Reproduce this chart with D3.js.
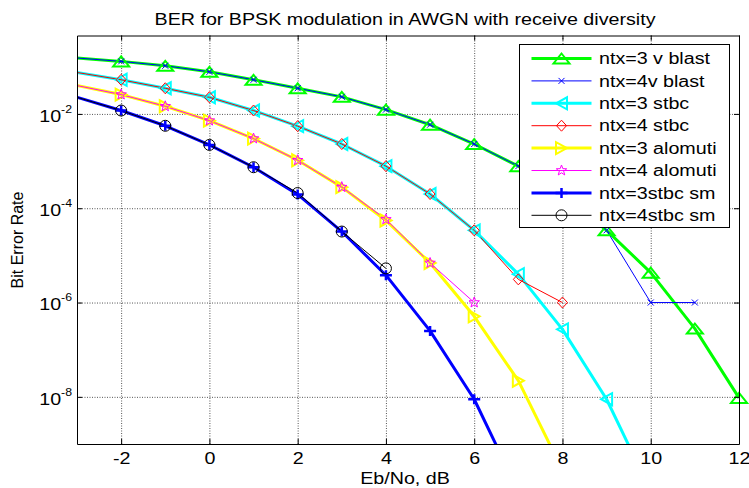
<!DOCTYPE html>
<html>
<head>
<meta charset="utf-8">
<script src="https://cdn.jsdelivr.net/npm/d3@7"></script>
<style>
  body { margin: 0; background: #fff; }
  text { font-family: "Liberation Sans", Arial, sans-serif; fill: #000; }
</style>
</head>
<body>
<div id="chart"></div>
<script>
// Eb/No points (dB); the first one lies left of the visible axis
const ebNo = [-4, -2, -1, 0, 1, 2, 3, 4, 5, 6, 7, 8, 9, 10, 11, 12]

// BER (null = no point)
const vblast3 = [0.181, 0.13, 0.105, 0.078, 0.053, 0.035, 0.023, 0.0123, 0.0059, 0.0023, 7.8e-4, 1.9e-4, 3.4e-5, 4.3e-6, 2.8e-7, 9.5e-9]
const vblast4 = [0.181, 0.13, 0.105, 0.078, 0.053, 0.035, 0.023, 0.0123, 0.0059, 0.0023, 7.8e-4, 1.9e-4, 3.4e-5, 1e-6, 1e-6, null]
const stbc3 = [0.108, 0.053, 0.035, 0.0225, 0.0118, 0.0055, 0.0023, 7.8e-4, 2.0e-4, 3.4e-5, 4.0e-6, 2.7e-7, 8.9e-9, 1.0e-10, null, null]
const stbc4 = [0.108, 0.053, 0.035, 0.0225, 0.0118, 0.0055, 0.0023, 7.8e-4, 2.0e-4, 3.4e-5, 3.1e-6, 1.0e-6, null, null, null, null]
const alamouti3 = [0.062, 0.0257, 0.0145, 0.0072, 0.0030, 0.00104, 2.8e-4, 5.5e-5, 6.9e-6, 5.1e-7, 2.2e-8, 2.8e-10, null, null, null, null]
const alamouti4 = [0.062, 0.0257, 0.0145, 0.0072, 0.0030, 0.00104, 2.8e-4, 5.8e-5, 6.9e-6, 1.0e-6, null, null, null, null, null, null]
const stbcSm3 = [0.043, 0.0118, 0.0056, 0.0022, 7.4e-4, 1.96e-4, 3.2e-5, 3.8e-6, 2.5e-7, 8.9e-9, 1.0e-10, null, null, null, null, null]
const stbcSm4 = [0.043, 0.0118, 0.0056, 0.0022, 7.4e-4, 2.1e-4, 3.2e-5, 5.3e-6, null, null, null, null, null, null, null, null]

const legendLabels = ["ntx=3 v blast", "ntx=4v blast", "ntx=3 stbc", "ntx=4 stbc",
  "ntx=3 alomuti", "ntx=4 alomuti", "ntx=3stbc sm", "ntx=4stbc sm"]
const xTicks = [-2, 0, 2, 4, 6, 8, 10, 12]
const yTickExponents = [-2, -4, -6, -8]

const titleText = "BER for BPSK modulation in AWGN with receive diversity"
const xLabelText = "Eb/No, dB"
const yLabelText = "Bit Error Rate"

// plot order matters: later series sit on top
const series = [
  { values: vblast3, color: "#00ff00", width: 3, marker: "triUp", markerWidth: 2 },
  { values: vblast4, color: "#0000ff", width: 1, marker: "x", markerWidth: 1 },
  { values: stbc3, color: "#00ffff", width: 3, marker: "triLeft", markerWidth: 2 },
  { values: stbc4, color: "#ff0000", width: 1, marker: "diamond", markerWidth: 1 },
  { values: alamouti3, color: "#ffff00", width: 3, marker: "triRight", markerWidth: 2 },
  { values: alamouti4, color: "#ff00ff", width: 1, marker: "star", markerWidth: 1 },
  { values: stbcSm3, color: "#0000ff", width: 3, marker: "plus", markerWidth: 2.5 },
  { values: stbcSm4, color: "#000000", width: 1, marker: "circle", markerWidth: 1 },
].map((s, i) => ({ ...s, label: legendLabels[i] }))

const STRETCH = 1.23  // the reference text is drawn wide

const dimensions = {
  width: 749,
  height: 488,
  margin: { top: 35.5, right: 10, bottom: 44, left: 77 },
}
dimensions.boundedWidth = dimensions.width - dimensions.margin.left - dimensions.margin.right
dimensions.boundedHeight = dimensions.height - dimensions.margin.top - dimensions.margin.bottom

const xScale = d3.scaleLinear()
  .domain([-3, 12])
  .range([0, dimensions.boundedWidth])
const yScale = d3.scaleLog()
  .domain([1e-9, 0.46])
  .range([dimensions.boundedHeight, 0])

function markerPath(type) {
  const p = d3.path()
  switch (type) {
    case "triUp":
      p.moveTo(0, -5); p.lineTo(8, 5); p.lineTo(-8, 5); p.closePath(); break
    case "triLeft":
      p.moveTo(-5.5, 0); p.lineTo(5.5, -6); p.lineTo(5.5, 6); p.closePath(); break
    case "triRight":
      p.moveTo(5.5, 0); p.lineTo(-5.5, -6); p.lineTo(-5.5, 6); p.closePath(); break
    case "diamond":
      p.moveTo(0, -5.5); p.lineTo(5, 0); p.lineTo(0, 5.5); p.lineTo(-5, 0); p.closePath(); break
    case "x":
      p.moveTo(-3, -3); p.lineTo(3, 3); p.moveTo(-3, 3); p.lineTo(3, -3); break
    case "plus":
      p.moveTo(-6, 0); p.lineTo(6, 0); p.moveTo(0, -5); p.lineTo(0, 5); break
    case "circle":
      p.moveTo(5.5, 0); p.arc(0, 0, 5.5, 0, 2 * Math.PI); break
    case "star": {
      for (let k = 0; k < 10; k++) {
        const r = k % 2 === 0 ? 5.5 : 2.3
        const a = -Math.PI / 2 + k * Math.PI / 5
        if (k === 0) p.moveTo(r * Math.cos(a), r * Math.sin(a))
        else p.lineTo(r * Math.cos(a), r * Math.sin(a))
      }
      p.closePath(); break
    }
  }
  return p.toString()
}

const svg = d3.select("#chart").append("svg")
  .attr("width", dimensions.width)
  .attr("height", dimensions.height)

const bounds = svg.append("g")
  .attr("transform", `translate(${dimensions.margin.left}, ${dimensions.margin.top})`)

svg.append("defs").append("clipPath")
  .attr("id", "plot-clip")
  .append("rect")
  .attr("width", dimensions.boundedWidth)
  .attr("height", dimensions.boundedHeight)

// Grid
const yTicks = yTickExponents.map(e => Math.pow(10, e))
const gridStyle = g => {
  g.select(".domain").remove()
  g.selectAll(".tick line")
    .attr("stroke", "#555")
    .attr("stroke-dasharray", "1,1.5")
}
bounds.append("g")
  .attr("transform", `translate(0, ${dimensions.boundedHeight})`)
  .call(d3.axisBottom(xScale).tickValues(xTicks).tickSize(-dimensions.boundedHeight).tickFormat(""))
  .call(gridStyle)
bounds.append("g")
  .call(d3.axisLeft(yScale).tickValues(yTicks).tickSize(-dimensions.boundedWidth).tickFormat(""))
  .call(gridStyle)

// Lines
const lineGenerator = d3.line()
  .defined(d => d.y != null)
  .x(d => xScale(d.x))
  .y(d => yScale(d.y))

const lineLayer = bounds.append("g").attr("clip-path", "url(#plot-clip)")
const markerLayer = bounds.append("g")

series.forEach(s => {
  const pts = ebNo.map((x, i) => ({ x, y: s.values[i] }))
  lineLayer.append("path")
    .attr("d", lineGenerator(pts))
    .attr("fill", "none")
    .attr("stroke", s.color)
    .attr("stroke-width", s.width)
    .attr("stroke-linejoin", "round")

  const [x0, x1] = xScale.domain()
  const [y0] = yScale.domain()
  markerLayer.selectAll(null)
    .data(pts.filter(d => d.y != null && d.x >= x0 && d.x <= x1 && d.y >= y0))
    .join("path")
      .attr("transform", d => `translate(${xScale(d.x)}, ${yScale(d.y)})`)
      .attr("d", markerPath(s.marker))
      .attr("fill", "none")
      .attr("stroke", s.color)
      .attr("stroke-width", s.markerWidth)
})

// Axes with inward ticks on all four sides
const axisStyle = g => {
  g.select(".domain").attr("stroke", "#000")
  g.selectAll(".tick line").attr("stroke", "#000")
}
const xAxis = bounds.append("g")
  .attr("transform", `translate(0, ${dimensions.boundedHeight})`)
  .call(d3.axisBottom(xScale).tickValues(xTicks).tickSize(-5).tickSizeOuter(0))
  .call(axisStyle)
xAxis.selectAll(".tick text")
  .attr("y", 0).attr("dy", null)
  .attr("transform", `translate(0, 19.5) scale(${STRETCH}, 1)`)
  .attr("font-size", 16)
  .attr("font-family", null)
  .text(d => d)

bounds.append("g")
  .call(d3.axisTop(xScale).tickValues(xTicks).tickSize(-5).tickSizeOuter(0).tickFormat(""))
  .call(axisStyle)

const yAxis = bounds.append("g")
  .call(d3.axisLeft(yScale).tickValues(yTicks).tickSize(-5).tickSizeOuter(0).tickFormat(""))
  .call(axisStyle)
yAxis.selectAll(".tick").each(function (d, i) {
  const label = d3.select(this).append("text")
    .attr("text-anchor", "end")
    .attr("font-size", 16)
    .attr("transform", `translate(-5, 7.2) scale(${STRETCH}, 1)`)
  label.append("tspan").text("10")
  label.append("tspan")
    .attr("font-size", 10)
    .attr("dy", -9)
    .text(yTickExponents[i])
})

bounds.append("g")
  .attr("transform", `translate(${dimensions.boundedWidth}, 0)`)
  .call(d3.axisRight(yScale).tickValues(yTicks).tickSize(-5).tickSizeOuter(0).tickFormat(""))
  .call(axisStyle)

// Titles
const centerX = dimensions.margin.left + dimensions.boundedWidth / 2 - 3
svg.append("text")
  .attr("transform", `translate(${centerX}, 25) scale(${STRETCH}, 1)`)
  .attr("text-anchor", "middle")
  .attr("font-size", 16)
  .text(titleText)

svg.append("text")
  .attr("transform", `translate(${centerX}, 484) scale(${STRETCH}, 1)`)
  .attr("text-anchor", "middle")
  .attr("font-size", 16)
  .text(xLabelText)

svg.append("text")
  .attr("transform", `translate(23, 240) rotate(-90)`)
  .attr("text-anchor", "middle")
  .attr("font-size", 16)
  .text(yLabelText)

// Legend
const legend = svg.append("g")
  .attr("transform", "translate(519.5, 44.5)")
legend.append("rect")
  .attr("width", 210)
  .attr("height", 183)
  .attr("fill", "#fff")
  .attr("stroke", "#000")

const rows = legend.selectAll(".legend-row")
  .data(series)
  .join("g")
    .attr("class", "legend-row")
    .attr("transform", (d, i) => `translate(0, ${14 + i * 22.4})`)
rows.append("line")
  .attr("x1", 12).attr("x2", 72)
  .attr("stroke", d => d.color)
  .attr("stroke-width", d => d.width)
rows.append("path")
  .attr("transform", "translate(42, 0)")
  .attr("d", d => markerPath(d.marker))
  .attr("fill", "none")
  .attr("stroke", d => d.color)
  .attr("stroke-width", d => d.markerWidth)
rows.append("text")
  .attr("transform", `translate(79.5, 5.7) scale(${STRETCH}, 1)`)
  .attr("font-size", 16)
  .text(d => d.label)
</script>
</body>
</html>
